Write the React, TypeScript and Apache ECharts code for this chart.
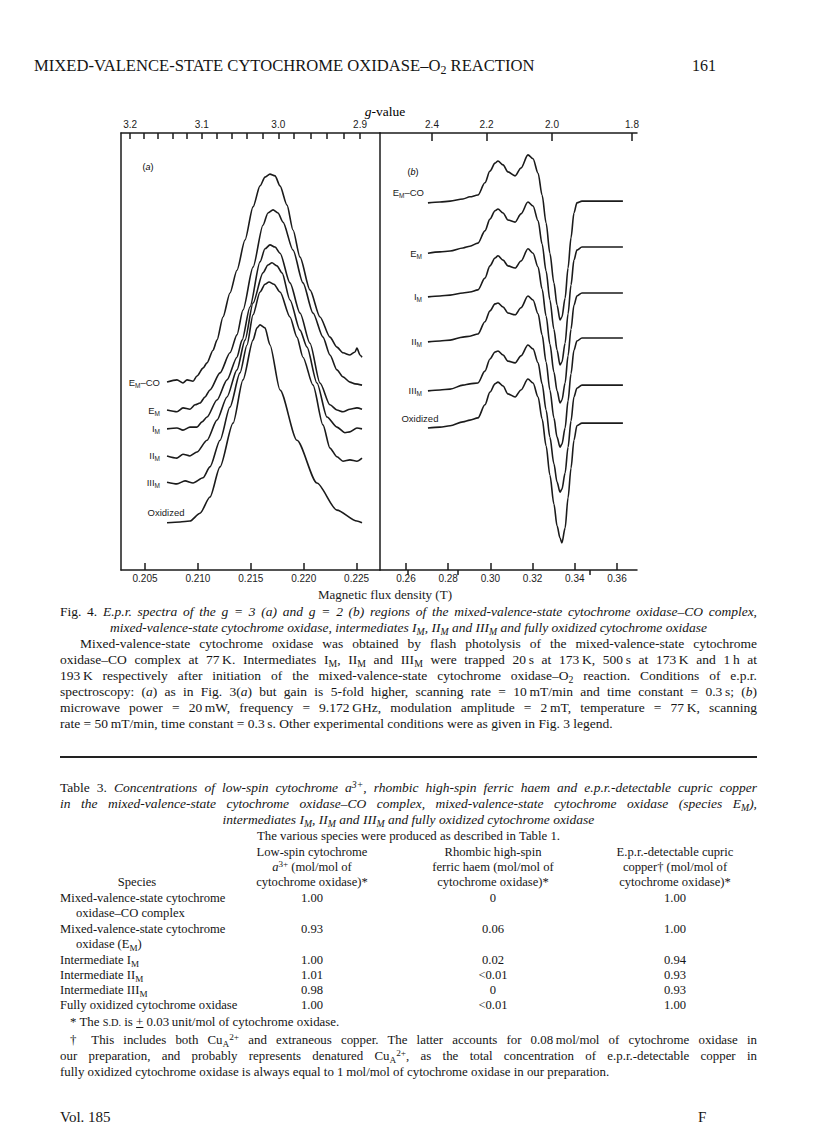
import React, { useEffect, useRef } from "react";
import * as echarts from "echarts";

// ---------------- Fig. 4 data ----------------
// (a) g = 3 region: [magnetic flux density (T), e.p.r. signal (arbitrary units, offset traces)]
const specA_EMCO: [number, number][] = [
  [0.20708, 43.0], [0.20802, 43.5], [0.20859, 42.8], [0.20897, 43.5], [0.20954, 43.2], [0.20991, 44.4],
  [0.21048, 46.2], [0.21086, 47.4], [0.21143, 50.3], [0.2118, 52.6], [0.21237, 57.9], [0.21303, 63.4],
  [0.21369, 68.6], [0.21445, 75.5], [0.21521, 83.1], [0.21587, 87.9], [0.21634, 89.9], [0.21681, 90.6],
  [0.21729, 90.2], [0.21776, 87.9], [0.21842, 83.5], [0.21899, 77.8], [0.21965, 71.6], [0.22059, 64.1],
  [0.22154, 57.9], [0.22248, 53.3], [0.22314, 51.0], [0.22371, 49.7], [0.22437, 49.2], [0.22485, 49.9],
  [0.22503, 50.8], [0.22532, 49.2], [0.22551, 48.7],
];
const specA_EM: [number, number][] = [
  [0.20708, 36.6], [0.20802, 36.2], [0.20859, 37.1], [0.20925, 36.8], [0.20973, 37.8], [0.2102, 38.2],
  [0.21067, 39.6], [0.21114, 41.2], [0.21209, 45.1], [0.21303, 49.7], [0.21369, 53.8], [0.21426, 59.5],
  [0.21521, 69.3], [0.21615, 78.9], [0.21662, 81.7], [0.2171, 82.4], [0.21757, 81.7], [0.21804, 79.6],
  [0.21899, 73.2], [0.21993, 65.7], [0.22088, 58.8], [0.22182, 53.3], [0.22248, 49.2], [0.22314, 45.8],
  [0.22371, 44.2], [0.22437, 43.0], [0.22485, 42.6], [0.22551, 42.3],
];
const specA_IM: [number, number][] = [
  [0.20708, 32.3], [0.20802, 32.5], [0.20859, 32.0], [0.20925, 32.7], [0.20991, 32.7], [0.21039, 33.9],
  [0.21086, 35.0], [0.2118, 38.9], [0.21275, 43.5], [0.21369, 48.7], [0.21417, 52.6], [0.21492, 60.2],
  [0.21587, 70.5], [0.21634, 73.5], [0.21681, 74.4], [0.21729, 73.9], [0.21776, 72.5], [0.2187, 65.7],
  [0.21965, 58.8], [0.22059, 51.9], [0.22154, 42.8], [0.22248, 37.8], [0.22314, 36.6], [0.22371, 36.2],
  [0.22437, 36.8], [0.22503, 37.1], [0.22551, 36.8],
];
const specA_IIM: [number, number][] = [
  [0.20708, 26.1], [0.20802, 25.6], [0.20859, 26.5], [0.20925, 26.1], [0.20991, 27.0], [0.21086, 29.7],
  [0.2118, 34.3], [0.21275, 39.6], [0.21369, 45.8], [0.21445, 52.6], [0.21521, 61.1], [0.21615, 68.0],
  [0.21662, 69.8], [0.217, 70.3], [0.21747, 69.6], [0.21795, 68.0], [0.2187, 61.8], [0.21965, 54.9],
  [0.22031, 51.0], [0.22125, 42.8], [0.2222, 35.0], [0.22314, 32.7], [0.2239, 31.4], [0.22437, 31.6],
  [0.22503, 32.5], [0.22551, 32.3],
];
const specA_IIIM: [number, number][] = [
  [0.20708, 20.1], [0.20802, 19.7], [0.20878, 20.4], [0.20954, 19.9], [0.21048, 21.1], [0.21114, 23.6],
  [0.21209, 29.7], [0.21303, 37.3], [0.21398, 45.1], [0.21464, 51.5], [0.21521, 58.4], [0.21587, 63.6],
  [0.21634, 65.4], [0.21672, 65.9], [0.21719, 65.4], [0.21776, 63.6], [0.2187, 57.9], [0.21936, 53.3],
  [0.21993, 48.7], [0.22088, 42.3], [0.22182, 33.2], [0.22248, 27.9], [0.22314, 25.9], [0.22371, 24.9],
  [0.22437, 25.2], [0.22503, 24.9], [0.22551, 25.6],
];
const specA_Ox: [number, number][] = [
  [0.20708, 10.8], [0.20831, 11.0], [0.20925, 11.2], [0.2102, 13.0], [0.21114, 16.7], [0.21209, 23.6],
  [0.21332, 33.6], [0.21426, 43.5], [0.21521, 52.6], [0.21558, 55.4], [0.21587, 56.1], [0.21634, 55.4],
  [0.21681, 51.5], [0.21776, 41.2], [0.21936, 29.7], [0.22125, 19.9], [0.22314, 13.7], [0.22503, 11.2],
  [0.22551, 10.8],
];

// (b) g = 2 region: shared field points (T) and one signal array per species
const fieldB: number[] = [
  0.2704, 0.2761, 0.2809, 0.287, 0.2903, 0.2941, 0.2974, 0.2998, 0.3022, 0.3036, 0.306, 0.3083,
  0.3117, 0.3145, 0.3178, 0.3202, 0.3226, 0.3245, 0.3264, 0.3282, 0.3301, 0.3316, 0.333, 0.3339,
  0.3354, 0.3368, 0.3382, 0.3396, 0.341, 0.3434, 0.3519, 0.3628,
];
const specB_EMCO = [84.0, 84.2, 84.4, 84.9, 85.4, 85.8, 88.6, 91.3, 93.1, 93.6, 92.7, 91.1, 90.2, 92.0, 95.0, 94.1, 90.8, 85.8, 79.4, 72.5, 65.7, 60.6, 57.2, 57.9, 62.2, 69.1, 76.0, 81.7, 84.0, 84.4, 84.4, 84.4];
const specB_EM = [72.5, 72.8, 73.0, 73.7, 74.1, 74.8, 77.6, 80.3, 82.2, 82.6, 81.7, 80.1, 79.6, 81.5, 84.2, 83.3, 79.9, 74.6, 68.4, 61.8, 55.1, 50.3, 46.9, 47.6, 51.9, 58.6, 65.2, 70.9, 73.2, 73.9, 73.9, 73.9];
const specB_IM = [62.5, 62.7, 62.9, 63.4, 63.6, 64.1, 66.8, 69.6, 71.4, 71.9, 70.9, 69.6, 69.1, 70.7, 73.5, 72.5, 69.3, 64.3, 58.1, 51.7, 45.3, 41.0, 38.2, 38.9, 42.8, 49.0, 55.1, 60.6, 62.7, 63.4, 63.4, 63.4];
const specB_IIM = [52.2, 52.4, 52.6, 53.3, 53.5, 54.0, 56.8, 59.3, 60.9, 61.1, 60.2, 58.8, 58.4, 60.0, 62.7, 61.8, 58.6, 53.8, 47.6, 41.2, 34.8, 30.4, 28.1, 28.8, 32.5, 38.7, 44.9, 50.3, 52.4, 53.1, 53.1, 53.1];
const specB_IIIM = [41.0, 41.2, 41.4, 42.3, 42.6, 42.8, 45.5, 48.3, 49.9, 50.1, 49.2, 47.8, 47.4, 49.0, 51.5, 50.6, 47.4, 42.6, 36.6, 30.4, 24.3, 20.1, 17.8, 18.5, 22.2, 28.1, 34.1, 39.6, 41.6, 42.3, 42.3, 42.3];
const specB_Ox = [32.5, 32.7, 33.0, 33.9, 34.3, 34.8, 37.8, 40.7, 42.6, 43.0, 42.1, 40.3, 39.6, 41.2, 43.7, 42.8, 39.6, 34.6, 28.4, 21.7, 15.1, 10.1, 7.3, 6.2, 9.6, 16.5, 23.3, 29.7, 33.0, 33.6, 33.6, 33.6];

// species labels: [main, subscript, tail]
const speciesLabels: [string, string, string][] = [
  ["E", "M", "\u2013CO"], ["E", "M", ""], ["I", "M", ""], ["II", "M", ""], ["III", "M", ""], ["Oxidized", "", ""],
];

// axis ticks
const fieldTicksA = [0.205, 0.21, 0.215, 0.22, 0.225];
const fieldTicksB = [0.26, 0.28, 0.3, 0.32, 0.34, 0.36];
const gTicksA = [3.2, 3.18, 3.16, 3.14, 3.12, 3.1, 3.08, 3.06, 3.04, 3.02, 3.0, 2.98, 2.96, 2.94, 2.92, 2.9];
const gLabelsA = [3.2, 3.1, 3.0, 2.9];
const gLabelsB = [2.4, 2.2, 2.0, 1.8];
const gMinorB = [2.5, 2.3, 1.9];

// ---------------- Table 3 data ----------------
const tableSpecies: string[][] = [
  ["Mixed-valence-state cytochrome", "oxidase\u2013CO complex"],
  ["Mixed-valence-state cytochrome", "oxidase (E"],
  ["Intermediate I"],
  ["Intermediate II"],
  ["Intermediate III"],
  ["Fully oxidized cytochrome oxidase"],
];
const lowSpinA3 = ["1.00", "0.93", "1.00", "1.01", "0.98", "1.00"];
const rhombicHaem = ["0", "0.06", "0.02", "<0.01", "0", "<0.01"];
const cupricCopper = ["1.00", "1.00", "0.94", "0.93", "0.93", "1.00"];

// ---------------- styling ----------------
const SANS = "'Liberation Sans', Arial, Helvetica, sans-serif";
const SERIF = "'Liberation Serif', 'Times New Roman', Times, serif";
const INK = "#1b1b1b";

const labelRich = {
  n: { fontSize: 9.5, fontFamily: SANS, color: INK, lineHeight: 13 },
  s: { fontSize: 6.5, fontFamily: SANS, color: INK, lineHeight: 7, verticalAlign: "bottom" },
};
const richLabel = (l: [string, string, string]) =>
  `{n|${l[0]}}` + (l[1] ? `{s|${l[1]}}` : "") + (l[2] ? `{n|${l[2]}}` : "");

function makeSeries(
  name: string,
  pts: [number, number][],
  xi: number,
  label: [string, string, string],
  labelPos: any,
  smooth: number
) {
  return {
    type: "line",
    name,
    xAxisIndex: xi,
    yAxisIndex: xi === 0 ? 0 : 1,
    symbol: "circle",
    symbolSize: 0.01,
    showSymbol: true,
    showAllSymbol: true,
    smooth,
    smoothMonotone: "x",
    lineStyle: { color: INK, width: 1.6 },
    itemStyle: { color: INK },
    label: { show: false },
    emphasis: { disabled: true },
    data: pts.map((p, i) =>
      i === 0
        ? { value: p, label: { show: true, formatter: richLabel(label), rich: labelRich, ...labelPos } }
        : p
    ),
  };
}

const axisLineStyle = { color: INK, width: 1.5 };
const tickLabel = { fontSize: 10, fontFamily: SANS, color: INK, lineHeight: 11 };

function buildOption() {
  const panelA = [specA_EMCO, specA_EM, specA_IM, specA_IIM, specA_IIIM, specA_Ox];
  const panelB = [specB_EMCO, specB_EM, specB_IM, specB_IIM, specB_IIIM, specB_Ox];
  const posA = [
    { position: "left", distance: 7 },
    { position: "left", distance: 7 },
    { position: "left", distance: 7 },
    { position: "left", distance: 7 },
    { position: "left", distance: 7 },
    { position: "top", distance: 4, offset: [-1, 0] },
  ];
  const posB = [
    { position: "left", distance: 4, offset: [0, -10] },
    { position: "left", distance: 6 },
    { position: "left", distance: 6 },
    { position: "left", distance: 6 },
    { position: "left", distance: 6 },
    { position: "top", distance: 3, offset: [-8, 0] },
  ];
  const series: any[] = [];
  panelA.forEach((pts, i) => series.push(makeSeries("a" + i, pts, 0, speciesLabels[i], posA[i], 0.25)));
  panelB.forEach((vals, i) =>
    series.push(
      makeSeries("b" + i, fieldB.map((b, k) => [b, vals[k]] as [number, number]), 2, speciesLabels[i], posB[i], 0.3)
    )
  );

  const inv = (g: number) => 1 / g;
  return {
    animation: false,
    backgroundColor: "transparent",
    grid: [
      { left: 121, top: 133, width: 259, height: 437 },
      { left: 380, top: 133, width: 257, height: 437 },
    ],
    xAxis: [
      {
        type: "value", gridIndex: 0, position: "bottom", min: 0.20273, max: 0.22721,
        axisLine: { show: true, onZero: false, lineStyle: axisLineStyle },
        axisTick: { show: true, inside: true, length: 7, customValues: fieldTicksA, lineStyle: axisLineStyle },
        axisLabel: { ...tickLabel, margin: 3, customValues: fieldTicksA, formatter: (v: number) => v.toFixed(3) },
        splitLine: { show: false },
      },
      {
        type: "value", gridIndex: 0, position: "top", min: 0.31122, max: 0.34763,
        axisLine: { show: true, onZero: false, lineStyle: axisLineStyle },
        axisTick: { show: true, inside: true, length: 6, customValues: gTicksA.map(inv), lineStyle: axisLineStyle },
        axisLabel: { ...tickLabel, margin: 3, customValues: gLabelsA.map(inv), formatter: (v: number) => (1 / v).toFixed(1) },
        splitLine: { show: false },
      },
      {
        type: "value", gridIndex: 1, position: "bottom", min: 0.24768, max: 0.36948,
        axisLine: { show: true, onZero: false, lineStyle: axisLineStyle },
        axisTick: { show: true, inside: true, length: 7, customValues: fieldTicksB, lineStyle: axisLineStyle },
        axisLabel: { ...tickLabel, margin: 3, customValues: fieldTicksB, formatter: (v: number) => v.toFixed(2) },
        splitLine: { show: false },
      },
      {
        type: "value", gridIndex: 1, position: "top", min: 0.38056, max: 0.55903,
        axisLine: { show: true, onZero: false, lineStyle: axisLineStyle },
        axisTick: { show: true, inside: true, length: 8, customValues: gLabelsB.map(inv), lineStyle: axisLineStyle },
        axisLabel: { ...tickLabel, margin: 3, customValues: gLabelsB.map(inv), formatter: (v: number) => (1 / v).toFixed(1) },
        splitLine: { show: false },
      },
      {
        type: "value", gridIndex: 1, position: "top", min: 0.38056, max: 0.55903,
        axisLine: { show: false },
        axisTick: { show: true, inside: true, length: 5, customValues: gMinorB.map(inv), lineStyle: axisLineStyle },
        axisLabel: { show: false },
        splitLine: { show: false },
      },
    ],
    yAxis: [0, 1].map((gi) => ({
      type: "value", gridIndex: gi, min: 0, max: 100,
      axisLine: { show: true, onZero: false, lineStyle: axisLineStyle },
      axisTick: { show: false }, axisLabel: { show: false }, splitLine: { show: false },
    })),
    graphic: [
      {
        type: "text", x: 385, y: 111,
        style: {
          text: "{i|g}{r|-value}", align: "center", verticalAlign: "middle",
          rich: {
            i: { fontFamily: SERIF, fontSize: 13.5, fontStyle: "italic", color: INK },
            r: { fontFamily: SERIF, fontSize: 13.5, color: INK },
          },
        },
      },
      {
        type: "text", x: 385, y: 594,
        style: { text: "Magnetic flux density (T)", font: `13px ${SERIF}`, fill: INK, align: "center", verticalAlign: "middle" },
      },
      {
        type: "text", x: 148, y: 167,
        style: {
          text: "{r|(}{i|a}{r|)}", align: "center", verticalAlign: "middle",
          rich: { r: { fontFamily: SANS, fontSize: 9, color: INK }, i: { fontFamily: SANS, fontSize: 9, fontStyle: "italic", color: INK } },
        },
      },
      {
        type: "text", x: 413, y: 172,
        style: {
          text: "{r|(}{i|b}{r|)}", align: "center", verticalAlign: "middle",
          rich: { r: { fontFamily: SANS, fontSize: 9, color: INK }, i: { fontFamily: SANS, fontSize: 9, fontStyle: "italic", color: INK } },
        },
      },
    ],
    series,
  };
}

// ---------------- page text helpers ----------------
const subStyle: React.CSSProperties = { fontSize: "0.72em", verticalAlign: "-0.28em", lineHeight: 0 };
const supStyle: React.CSSProperties = { fontSize: "0.72em", verticalAlign: "0.45em", lineHeight: 0 };
const Sub = ({ children }: { children: React.ReactNode }) => <span style={subStyle}>{children}</span>;
const Sup = ({ children }: { children: React.ReactNode }) => <span style={supStyle}>{children}</span>;

function Line(props: {
  y: number; x?: number; w?: number; align?: "justify" | "left" | "center" | "right";
  italic?: boolean; size?: number; children: React.ReactNode;
}) {
  const { y, x = 60, w = 697, align = "justify", italic = false, size = 13.5, children } = props;
  return (
    <div
      style={{
        position: "absolute", left: x, top: y - 8, width: w, height: 16, lineHeight: "16px",
        fontSize: size, fontFamily: SERIF, fontStyle: italic ? "italic" : "normal", color: "#151515",
        textAlign: align, textAlignLast: align as any, whiteSpace: "nowrap",
      }}
    >
      {children}
    </div>
  );
}

const K = "\u2009K";
const T = "\u2009";

export default function App() {
  const ref = useRef<HTMLDivElement>(null);
  useEffect(() => {
    if (!ref.current) return;
    const chart = echarts.init(ref.current, undefined, { renderer: "svg" });
    chart.setOption(buildOption() as any);
    return () => chart.dispose();
  }, []);

  const colX = [312, 493, 675];
  const rowY = [898, 929, 960, 975, 990, 1005];
  const tsize = 12.6;
  const fsize = 12.9;

  return (
    <div style={{ position: "absolute", left: 0, top: 0, width: 816, height: 1136, background: "#fff", overflow: "hidden" }}>
      <div ref={ref} style={{ position: "absolute", left: 0, top: 0, width: 816, height: 1136 }} />

      {/* running head */}
      <Line y={66} x={34} w={540} align="left" size={16.6}>
        MIXED-VALENCE-STATE CYTOCHROME OXIDASE{"\u2013"}O<Sub>2</Sub> REACTION
      </Line>
      <Line y={66} x={676} w={40} align="right" size={16}>161</Line>

      {/* figure legend */}
      <Line y={612} italic>
        <span style={{ fontStyle: "normal" }}>Fig. 4.</span> E.p.r. spectra of the g = 3 (a) and g = 2 (b) regions of the mixed-valence-state cytochrome oxidase{"\u2013"}CO complex,
      </Line>
      <Line y={628} align="center" italic>
        mixed-valence-state cytochrome oxidase, intermediates I<Sub>M</Sub>, II<Sub>M</Sub> and III<Sub>M</Sub> and fully oxidized cytochrome oxidase
      </Line>
      <Line y={644} x={80} w={677}>
        Mixed-valence-state cytochrome oxidase was obtained by flash photolysis of the mixed-valence-state cytochrome
      </Line>
      <Line y={660}>
        oxidase{"\u2013"}CO complex at 77{K}. Intermediates I<Sub>M</Sub>, II<Sub>M</Sub> and III<Sub>M</Sub> were trapped 20{T}s at 173{K}, 500{T}s at 173{K} and 1{T}h at
      </Line>
      <Line y={676}>
        193{K} respectively after initiation of the mixed-valence-state cytochrome oxidase{"\u2013"}O<Sub>2</Sub> reaction. Conditions of e.p.r.
      </Line>
      <Line y={692}>
        spectroscopy: (<i>a</i>) as in Fig. 3(<i>a</i>) but gain is 5-fold higher, scanning rate = 10{T}mT/min and time constant = 0.3{T}s; (<i>b</i>)
      </Line>
      <Line y={708}>
        microwave power = 20{T}mW, frequency = 9.172{T}GHz, modulation amplitude = 2{T}mT, temperature = 77{K}, scanning
      </Line>
      <Line y={724} align="left">
        rate = 50{T}mT/min, time constant = 0.3{T}s. Other experimental conditions were as given in Fig. 3 legend.
      </Line>

      <div style={{ position: "absolute", left: 60, top: 756, width: 697, height: 1.5, background: "#222" }} />

      {/* table caption */}
      <Line y={788}>
        Table 3. <i>Concentrations of low-spin cytochrome a<Sup>3+</Sup>, rhombic high-spin ferric haem and e.p.r.-detectable cupric copper</i>
      </Line>
      <Line y={804} italic>
        in the mixed-valence-state cytochrome oxidase{"\u2013"}CO complex, mixed-valence-state cytochrome oxidase (species E<Sub>M</Sub>),
      </Line>
      <Line y={820} align="center" italic>
        intermediates I<Sub>M</Sub>, II<Sub>M</Sub> and III<Sub>M</Sub> and fully oxidized cytochrome oxidase
      </Line>
      <Line y={836} align="center" size={12.8}>The various species were produced as described in Table 1.</Line>

      {/* table header */}
      <Line y={852} x={colX[0] - 80} w={160} align="center" size={tsize}>Low-spin cytochrome</Line>
      <Line y={867} x={colX[0] - 80} w={160} align="center" size={tsize}><i>a</i><Sup>3+</Sup> (mol/mol of</Line>
      <Line y={882} x={colX[0] - 80} w={160} align="center" size={tsize}>cytochrome oxidase)*</Line>
      <Line y={852} x={colX[1] - 80} w={160} align="center" size={tsize}>Rhombic high-spin</Line>
      <Line y={867} x={colX[1] - 80} w={160} align="center" size={tsize}>ferric haem (mol/mol of</Line>
      <Line y={882} x={colX[1] - 80} w={160} align="center" size={tsize}>cytochrome oxidase)*</Line>
      <Line y={852} x={colX[2] - 80} w={160} align="center" size={tsize}>E.p.r.-detectable cupric</Line>
      <Line y={867} x={colX[2] - 80} w={160} align="center" size={tsize}>copper{"\u2020"} (mol/mol of</Line>
      <Line y={882} x={colX[2] - 80} w={160} align="center" size={tsize}>cytochrome oxidase)*</Line>
      <Line y={882} x={87} w={100} align="center" size={tsize}>Species</Line>

      {/* table body */}
      {tableSpecies.map((lines, i) => (
        <React.Fragment key={i}>
          <Line y={rowY[i]} x={60} w={230} align="left" size={tsize}>
            {lines[0]}
            {i >= 2 && i <= 4 ? <Sub>M</Sub> : null}
          </Line>
          {lines[1] ? (
            <Line y={rowY[i] + 15} x={76} w={220} align="left" size={tsize}>
              {lines[1]}
              {i === 1 ? <><Sub>M</Sub>)</> : null}
            </Line>
          ) : null}
          <Line y={rowY[i]} x={colX[0] - 40} w={80} align="center" size={tsize}>{lowSpinA3[i]}</Line>
          <Line y={rowY[i]} x={colX[1] - 40} w={80} align="center" size={tsize}>{rhombicHaem[i]}</Line>
          <Line y={rowY[i]} x={colX[2] - 40} w={80} align="center" size={tsize}>{cupricCopper[i]}</Line>
        </React.Fragment>
      ))}

      {/* footnotes */}
      <Line y={1022} x={70} w={500} align="left" size={fsize}>
        * The <span style={{ fontSize: "0.8em" }}>S.D.</span> is <span style={{ textDecoration: "underline" }}>+</span> 0.03{T}unit/mol of cytochrome oxidase.
      </Line>
      <Line y={1040} x={70} w={687} size={fsize}>
        {"\u2020"} This includes both Cu<Sub>A</Sub><Sup>2+</Sup> and extraneous copper. The latter accounts for 0.08{T}mol/mol of cytochrome oxidase in
      </Line>
      <Line y={1056} size={fsize}>
        our preparation, and probably represents denatured Cu<Sub>A</Sub><Sup>2+</Sup>, as the total concentration of e.p.r.-detectable copper in
      </Line>
      <Line y={1072} align="left" size={fsize}>
        fully oxidized cytochrome oxidase is always equal to 1{T}mol/mol of cytochrome oxidase in our preparation.
      </Line>

      {/* folio */}
      <Line y={1117} x={60} w={120} align="left" size={15}>Vol. 185</Line>
      <Line y={1117} x={698} w={30} align="left" size={15}>F</Line>
    </div>
  );
}
